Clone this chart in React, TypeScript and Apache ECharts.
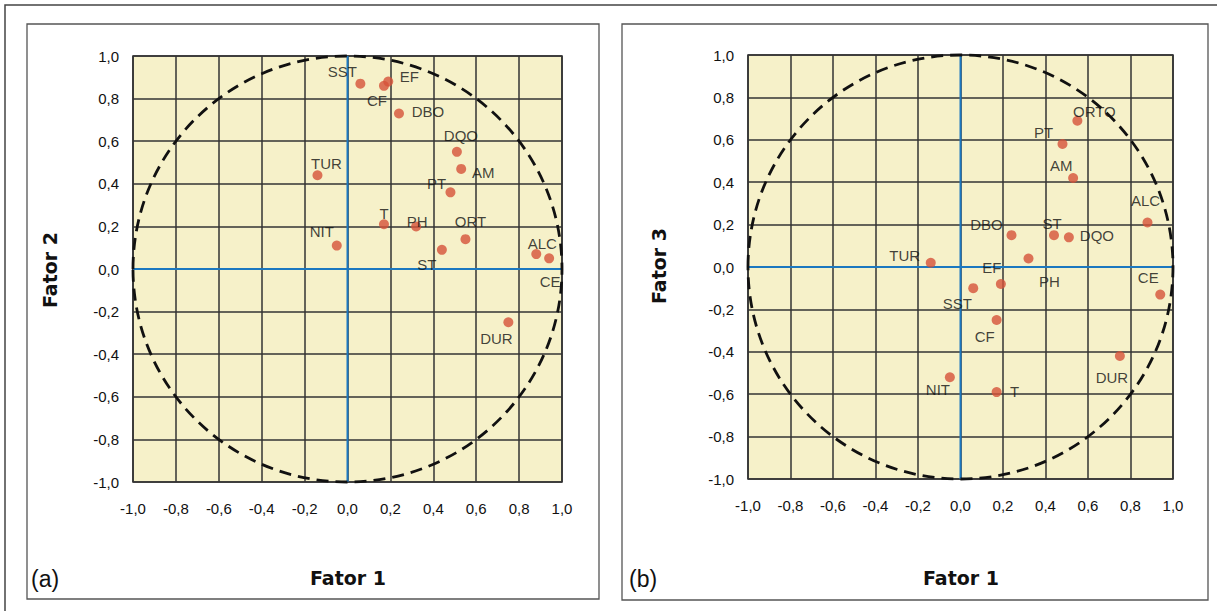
import { useEffect, useRef } from "react";
import * as echarts from "echarts";

// Variable names (panel b labels orthophosphate as ORTO)
const variaveisA = ["SST", "CF", "EF", "DBO", "DQO", "AM", "PT", "TUR", "T", "PH", "ORT", "ST", "NIT", "ALC", "CE", "DUR"];
const variaveisB = ["SST", "CF", "EF", "DBO", "DQO", "AM", "PT", "TUR", "T", "PH", "ORTO", "ST", "NIT", "ALC", "CE", "DUR"];

// Factor loadings
const fator1 = [0.06, 0.17, 0.19, 0.24, 0.51, 0.53, 0.48, -0.14, 0.17, 0.32, 0.55, 0.44, -0.05, 0.88, 0.94, 0.75];
const fator2 = [0.87, 0.86, 0.88, 0.73, 0.55, 0.47, 0.36, 0.44, 0.21, 0.2, 0.14, 0.09, 0.11, 0.07, 0.05, -0.25];
const fator3 = [-0.1, -0.25, -0.08, 0.15, 0.14, 0.42, 0.58, 0.02, -0.59, 0.04, 0.69, 0.15, -0.52, 0.21, -0.13, -0.42];

// Axis range and tick step
const axisMin = -1;
const axisMax = 1;
const axisStep = 0.2;

// Label placement around each marker, [dx, dy] in pixels
const labelOffsetA = [
  [-18, -12], [-7, 15], [21, -5], [29, -2], [4, -16], [22, 4], [-14, -9], [9, -12],
  [0, -11], [1, -5], [5, -18], [-15, 15], [-15, -14], [6, -11], [1, 23], [-12, 16],
];
const labelOffsetB = [
  [-16, 15], [-12, 16], [-9, -16], [-25, -11], [28, -2], [-12, -12], [-19, -12], [-26, -7],
  [18, -1], [21, 23], [17, -9], [-2, -12], [-12, 12], [-2, -22], [-12, -17], [-8, 21],
];

const FONT = "'Liberation Sans', Arial, sans-serif";
const TITLE_FONT = "'DejaVu Sans', Verdana, sans-serif";

const fmt = (v: number) => v.toFixed(1).replace(".", ",");

function axes(gridIndex: number) {
  const common = {
    type: "value" as const,
    gridIndex,
    min: axisMin,
    max: axisMax,
    interval: axisStep,
    axisLine: { show: false },
    axisTick: { show: false },
    splitLine: { show: true, lineStyle: { color: "#333333", width: 1.5 } },
    axisLabel: { formatter: fmt, color: "#111", fontFamily: FONT, fontSize: 15 },
  };
  return {
    x: { ...common, axisLabel: { ...common.axisLabel, margin: 19 } },
    y: { ...common, axisLabel: { ...common.axisLabel, margin: 14 } },
  };
}

function seriesFor(gridIndex: number, names: string[], xs: number[], ys: number[], offsets: number[][]) {
  const axisRef = { xAxisIndex: gridIndex, yAxisIndex: gridIndex };
  return [
    {
      type: "line",
      ...axisRef,
      data: [[0, axisMin], [0, axisMax]],
      symbol: "none",
      silent: true,
      z: 3,
      lineStyle: { color: "#1c78c0", width: 2 },
    },
    {
      type: "line",
      ...axisRef,
      data: [[axisMin, 0], [axisMax, 0]],
      symbol: "none",
      silent: true,
      z: 3,
      lineStyle: { color: "#1c78c0", width: 2 },
    },
    {
      // unit correlation circle
      type: "custom",
      ...axisRef,
      silent: true,
      z: 4,
      data: [[0, 0]],
      renderItem: (_p: any, api: any) => {
        const c = api.coord([0, 0]);
        const s = api.size([1, 1]);
        return {
          type: "ellipse",
          shape: { cx: c[0], cy: c[1], rx: s[0], ry: s[1] },
          style: { fill: "none", stroke: "#111", lineWidth: 2.8, lineDash: [12, 7] },
        };
      },
    },
    {
      type: "scatter",
      ...axisRef,
      z: 5,
      symbolSize: 10,
      itemStyle: { color: "#d6533a" },
      label: {
        show: true,
        position: "inside",
        formatter: (p: any) => p.name,
        color: "#111",
        fontFamily: FONT,
        fontSize: 15,
      },
      data: names.map((n, i) => ({
        name: n,
        value: [xs[i], ys[i]],
        label: { offset: offsets[i] },
      })),
    },
  ];
}

export default function App() {
  const ref = useRef<HTMLDivElement>(null);

  useEffect(() => {
    if (!ref.current) return;
    const chart = echarts.init(ref.current, undefined, { renderer: "svg" });
    const a = axes(0);
    const b = axes(1);
    chart.setOption({
      animation: false,
      backgroundColor: "#ffffff",
      grid: [
        { left: 133, top: 56, width: 429, height: 426, show: true, backgroundColor: "#f6f1c9", borderColor: "#333", borderWidth: 1.6 },
        { left: 748, top: 55, width: 425, height: 424, show: true, backgroundColor: "#f6f1c9", borderColor: "#333", borderWidth: 1.6 },
      ],
      xAxis: [a.x, b.x],
      yAxis: [a.y, b.y],
      series: [
        ...seriesFor(0, variaveisA, fator1, fator2, labelOffsetA),
        ...seriesFor(1, variaveisB, fator1, fator3, labelOffsetB),
      ],
      graphic: [
        {
          type: "polyline",
          shape: { points: [[5, 611], [5, 5], [1217, 5]] },
          style: { fill: "none", stroke: "#444", lineWidth: 1.5 },
          silent: true,
        },
        {
          type: "rect",
          shape: { x: 27, y: 24, width: 572, height: 575 },
          style: { fill: "none", stroke: "#555", lineWidth: 1.3 },
          silent: true,
        },
        {
          type: "rect",
          shape: { x: 622, y: 24, width: 586, height: 576 },
          style: { fill: "none", stroke: "#555", lineWidth: 1.3 },
          silent: true,
        },
        {
          type: "text",
          x: 50,
          y: 270,
          rotation: Math.PI / 2,
          style: { text: "Fator 2", font: `bold 19px ${TITLE_FONT}`, fill: "#111", align: "center", verticalAlign: "middle" },
        },
        {
          type: "text",
          x: 659,
          y: 266,
          rotation: Math.PI / 2,
          style: { text: "Fator 3", font: `bold 19px ${TITLE_FONT}`, fill: "#111", align: "center", verticalAlign: "middle" },
        },
        {
          type: "text",
          x: 348,
          y: 578,
          style: { text: "Fator 1", font: `bold 19px ${TITLE_FONT}`, fill: "#111", align: "center", verticalAlign: "middle" },
        },
        {
          type: "text",
          x: 961,
          y: 578,
          style: { text: "Fator 1", font: `bold 19px ${TITLE_FONT}`, fill: "#111", align: "center", verticalAlign: "middle" },
        },
        {
          type: "text",
          x: 31,
          y: 579,
          style: { text: "(a)", font: `23px ${FONT}`, fill: "#111", align: "left", verticalAlign: "middle" },
        },
        {
          type: "text",
          x: 629,
          y: 579,
          style: { text: "(b)", font: `23px ${FONT}`, fill: "#111", align: "left", verticalAlign: "middle" },
        },
      ],
    });
    return () => chart.dispose();
  }, []);

  return (
    <div
      ref={ref}
      style={{ position: "fixed", left: 0, top: 0, width: 1217, height: 611 }}
    />
  );
}
